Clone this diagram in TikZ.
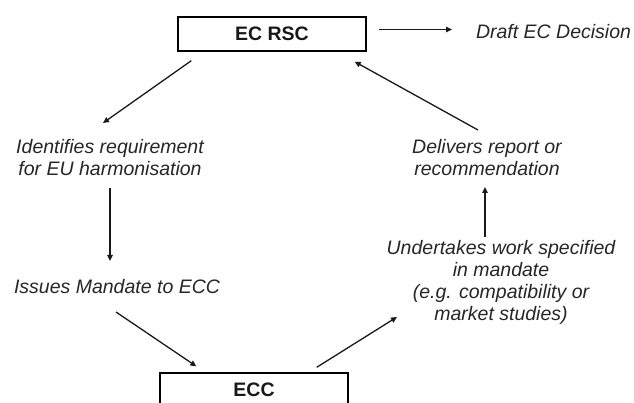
\documentclass[tikz,border=0pt]{standalone}
\usepackage{fontspec}
\setmainfont{Liberation Sans}
\usetikzlibrary{arrows.meta}
\begin{document}
\begin{tikzpicture}[x=1pt,y=1pt,
  box/.style={draw=black,line width=1.4pt,minimum width=188pt,minimum height=34pt,inner sep=0pt,
    font=\fontsize{19.5}{22}\selectfont\bfseries,text=black!90},
  lbl/.style={font=\fontsize{19.5}{22}\selectfont\itshape,align=center,text=black!85},
  conn/.style={line width=1.3pt,draw=black!90,-{Triangle[length=6pt,width=5.5pt]}}]
\useasboundingbox (0,0) rectangle (634,-403);
\clip (0,0) rectangle (634,-403);
\node[box] (rsc) at (272,-34) {EC RSC};
\node[box] (ecc) at (254,-390) {ECC};
\node[lbl,anchor=base] (draft) at (553.5,-39) {Draft EC Decision};
\node[lbl] (ident) at (110,-158) {Identifies requirement\\for EU harmonisation};
\node[lbl,anchor=base] (issues) at (117,-293) {Issues Mandate to ECC};
\node[lbl] (under) at (501,-282.5) {Undertakes work specified\\in mandate\\(e.g. compatibility or\\market studies)};
\node[lbl] (deliv) at (487,-158) {Delivers report or\\recommendation};
\draw[conn] ([shift={(12,4.5)}]rsc.east) -- ([shift={(-101.5,9.5)}]draft.base);
\draw[conn] ([shift={(14,-9)}]rsc.south west) -- ([shift={(-7,35)}]ident.center);
\draw[conn] ([shift={(0,-30)}]ident.center) -- ([shift={(-7,32)}]issues.base);
\draw[conn] ([shift={(-1,-19)}]issues.base) -- ([shift={(37,6)}]ecc.north west);
\draw[conn] ([shift={(-32,5)}]ecc.north east) -- ([shift={(-104,-34.5)}]under.center);
\draw[conn] ([shift={(-16,45.5)}]under.center) -- ([shift={(-2,-29)}]deliv.center);
\draw[conn] ([shift={(-9,28)}]deliv.center) -- ([shift={(-12,-10)}]rsc.south east);
\end{tikzpicture}
\end{document}
